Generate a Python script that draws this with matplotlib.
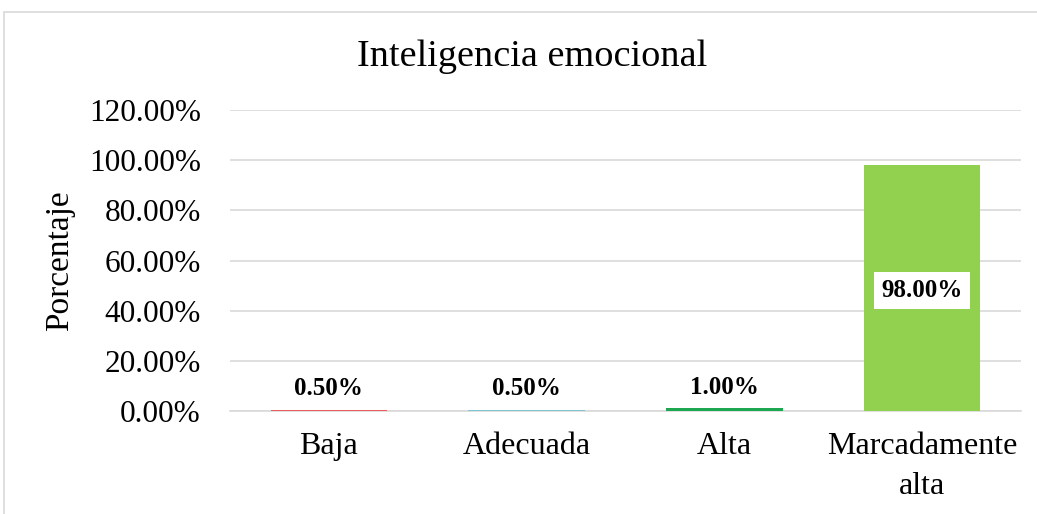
import matplotlib.pyplot as plt
from matplotlib.patches import Rectangle

categories = ["Baja", "Adecuada", "Alta", "Marcadamente\nalta"]
values = [0.5, 0.5, 1.0, 98.0]
colors = ["#EE5B5B", "#7FC4CF", "#1DA750", "#92D050"]
yticks = [0, 20, 40, 60, 80, 100, 120]

plt.rcParams["font.family"] = ["Liberation Serif", "DejaVu Serif"]

fig = plt.figure(figsize=(10.37, 5.14), dpi=100)
ax = fig.add_axes([230 / 1037, 1 - 411 / 514, (1021 - 230) / 1037, (411 - 110) / 514])

# chart frame
fig.patches.append(Rectangle((4 / 1037, -0.1), 1.2, (514 - 12) / 514 + 0.1,
                             transform=fig.transFigure, fill=False,
                             edgecolor="#D9D9D9", linewidth=1.2))

x = range(len(categories))
bars = ax.bar(x, values, width=0.59, color=colors, zorder=3)

ax.set_ylim(0, 120)
ax.set_xlim(-0.5, 3.5)
ax.set_yticks(yticks)
ax.set_yticklabels([f"{v:.2f}%" for v in yticks], fontsize=22.5)
ax.set_xticks(list(x))
ax.set_xticklabels(categories, fontsize=23, linespacing=1.5)
ax.tick_params(length=0)
ax.tick_params(axis="y", pad=21)
ax.tick_params(axis="x", pad=15)
ax.yaxis.grid(True, color="#D9D9D9", linewidth=1.2, zorder=0)
for s in ["top", "right", "left"]:
    ax.spines[s].set_visible(False)
ax.spines["bottom"].set_color("#D9D9D9")
ax.spines["bottom"].set_linewidth(1.2)

ax.set_ylabel("Porcentaje", fontsize=24, labelpad=10)
fig.text(532 / 1037, 1 - 57 / 514, "Inteligencia emocional",
         fontsize=27.5, ha="center", va="center")

for i, v in enumerate(values):
    if v > 50:
        ax.text(i, v / 2 - 1, f"{v:.2f}%", ha="center", va="center", fontsize=18,
                fontweight="bold", zorder=4,
                bbox=dict(facecolor="white", edgecolor="none", pad=5))
    else:
        ax.text(i, v + 3.8, f"{v:.2f}%", ha="center", va="bottom", fontsize=18,
                fontweight="bold", zorder=4)

fig.savefig("out.png", dpi=100)
